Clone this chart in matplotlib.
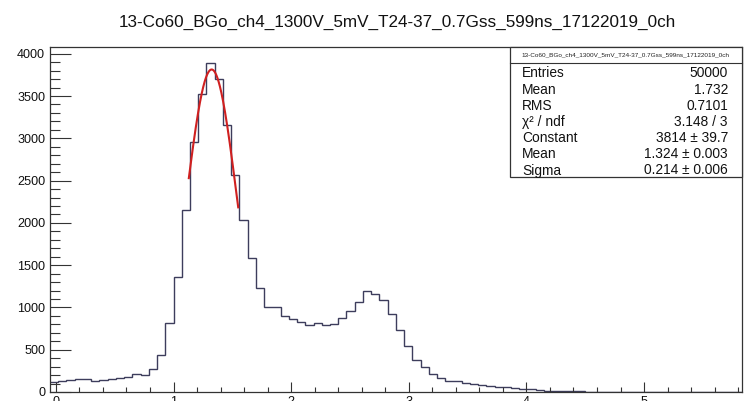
import numpy as np
import matplotlib
matplotlib.use('Agg')
from matplotlib import pyplot as plt
from matplotlib.patches import Rectangle
from matplotlib.ticker import MultipleLocator

plt.rcParams['font.family'] = ['Liberation Sans', 'DejaVu Sans']

# histogram data
title = '13-Co60_BGo_ch4_1300V_5mV_T24-37_0.7Gss_599ns_17122019_0ch'
x_min, x_max, n_bins = -0.05, 5.83, 84
counts = [118, 125, 138, 158, 158, 130, 146, 158, 160, 177,
          209, 197, 276, 433, 812, 1363, 2151, 2951, 3522, 3885,
          3696, 3156, 2565, 2033, 1580, 1225, 1010, 1000, 895, 862,
          831, 792, 812, 798, 805, 879, 961, 1060, 1194, 1158,
          1087, 922, 733, 545, 375, 292, 213, 165, 134, 126,
          106, 95, 79, 67, 63, 55, 47, 39, 32, 24,
          16, 12, 8, 8, 6, 5, 5, 4, 4, 3,
          3, 3, 2, 2, 2, 1, 0, 0, 0, 0,
          0, 0, 1, 1]

# fit result (gaus)
fit_const, fit_mean, fit_sigma = 3814, 1.324, 0.214
fit_lo, fit_hi = 1.13, 1.55

stat_labels = ['Entries', 'Mean', 'RMS', 'χ² / ndf', 'Constant', 'Mean', 'Sigma']
stat_values = ['50000', '1.732', '0.7101', '3.148 / 3',
               '3814 ± 39.7', '1.324 ± 0.003', '0.214 ± 0.006']

fig = plt.figure(figsize=(7.48, 4.01), dpi=100)
W, H = 748, 401
L, R, T, B = 50, 741.7, 47, 392
ax = fig.add_axes([L / W, 1 - B / H, (R - L) / W, (B - T) / H])

edges = np.linspace(x_min, x_max, n_bins + 1)
ax.stairs(counts, edges, color='#3d3d5c', lw=1.0, baseline=None)

xf = np.linspace(fit_lo, fit_hi, 200)
yf = fit_const * np.exp(-0.5 * ((xf - fit_mean) / fit_sigma) ** 2)
ax.plot(xf, yf, color='#d02020', lw=1.5)

ax.set_xlim(x_min, x_max)
ax.set_ylim(0, 4080)
ax.xaxis.set_major_locator(MultipleLocator(1))
ax.xaxis.set_minor_locator(MultipleLocator(0.2))
ax.yaxis.set_major_locator(MultipleLocator(500))
ax.yaxis.set_minor_locator(MultipleLocator(100))
ax.tick_params(axis='y', which='major', direction='in', length=14.9, width=0.8,
               labelsize=9.1, pad=3.5, colors='#333333', labelcolor='#111111')
ax.tick_params(axis='y', which='minor', direction='in', length=7.4, width=0.8,
               colors='#333333')
ax.tick_params(axis='x', which='major', direction='in', length=7.5, width=0.8,
               labelsize=9.1, pad=3, colors='#333333', labelcolor='#111111')
ax.tick_params(axis='x', which='minor', direction='in', length=3.8, width=0.8,
               colors='#333333')
for s in ax.spines.values():
    s.set_color('#333333')
    s.set_linewidth(0.9)

fig.text(397.5 / W, 1 - 22 / H, title, ha='center', va='center',
         fontsize=12.3, color='#111111')

# stats box
bx0, bx1, by0, by1 = 510, 741.7, 46.7, 176.7
fig.add_artist(Rectangle((bx0 / W, 1 - by1 / H), (bx1 - bx0) / W, (by1 - by0) / H,
                         transform=fig.transFigure, facecolor='white',
                         edgecolor='#333333', lw=0.9))
fig.add_artist(plt.Line2D([bx0 / W, bx1 / W], [1 - 62.7 / H, 1 - 62.7 / H],
                          transform=fig.transFigure, color='#333333', lw=0.8))
fig.text((bx0 + bx1) / 2 / W, 1 - 55 / H, title, ha='center', va='center',
         fontsize=4.6, color='#222222')
for i, (lab, val) in enumerate(zip(stat_labels, stat_values)):
    yy = 1 - (73.3 + 16.2 * i) / H
    fig.text(522 / W, yy, lab, ha='left', va='center', fontsize=9.9, color='#111111')
    fig.text(728 / W, yy, val, ha='right', va='center', fontsize=9.9, color='#111111')

fig.savefig('out.png', dpi=100)
